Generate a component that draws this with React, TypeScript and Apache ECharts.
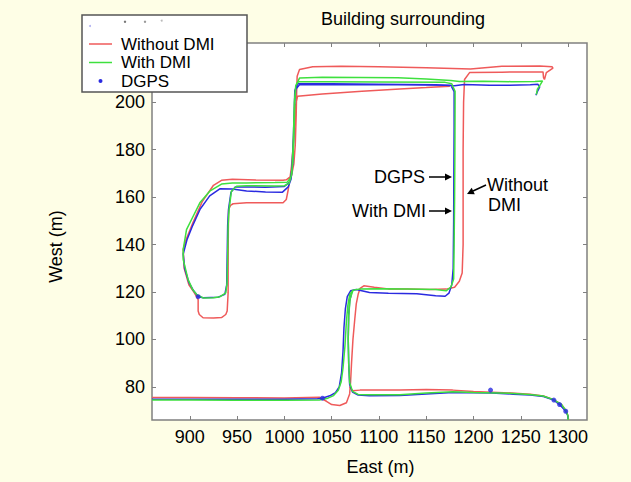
import React, { useEffect, useRef } from 'react';
import * as echarts from 'echarts';

const FONT = '"Liberation Sans", Arial, sans-serif';

const xTicks = [900, 950, 1000, 1050, 1100, 1150, 1200, 1250, 1300];
const yTicks = [80, 100, 120, 140, 160, 180, 200];
const seriesNames = ['Without DMI', 'With DMI', 'DGPS'];

// Without DMI (red) – main loop and the bottom-right leg
const withoutDmiMain: number[][] = [
  [860, 75.5], [900, 75.5], [950, 75.4], [1000, 75.3], [1037, 75.6], [1044.5, 73.9], [1050, 72.5],
  [1058.6, 72.1], [1065.6, 73.3], [1069, 77], [1070, 82], [1071, 90], [1072.5, 100], [1074.4, 108.4],
  [1076, 115], [1078, 119], [1080, 121.5], [1084, 122.6], [1095, 122], [1110, 121.3], [1130, 121.2],
  [1153.7, 121], [1171, 121.2], [1180, 122], [1185, 124.5], [1188, 128], [1189, 140], [1189, 160],
  [1189, 180], [1189.5, 200], [1190.5, 209.6], [1196, 212.6], [1230, 212.7], [1265, 212.8],
  [1273.5, 212.8], [1274, 210.5], [1275, 209.6], [1277, 212.5], [1284, 214.4], [1283, 215],
  [1270, 215.3], [1230, 215.2], [1196.8, 214], [1150, 214.6], [1100, 215], [1060, 215.2], [1030, 215],
  [1016, 213.8], [1013.5, 211], [1013, 205], [1012.5, 195], [1011.5, 182], [1010, 174], [1007.5, 169],
  [1002, 167.3], [998.6, 167.1], [970, 167.2], [945, 167.5], [933.5, 167.1], [925, 165], [913, 158],
  [903, 149], [896, 142], [893, 138], [894, 130], [899, 123], [905, 119.5], [908.8, 116.8],
  [908.8, 112], [910, 110.5], [914, 109.1], [925, 109], [933.5, 109.2], [938, 110.5], [939.5, 112],
  [940.5, 119.6], [940.5, 130], [940.7, 145], [941, 154.8], [943, 156.5], [945.8, 157.2], [960, 157.6],
  [980, 157.6], [998.6, 157.6], [1002, 159], [1004, 163], [1005.7, 167.4], [1007.5, 173], [1009, 180],
  [1010.5, 190], [1011.5, 198], [1013.9, 202.5], [1040, 203.5], [1082, 204.7], [1122, 205.6],
  [1150, 206.2], [1175, 206.8],
];
const withoutDmiLeg: number[][] = [
  [1069, 80], [1072, 78.3], [1080, 78.6], [1100, 78.6], [1122, 78.7], [1150, 78.9], [1178, 78.6],
  [1200, 78], [1240, 77.4], [1260, 76.9], [1274, 76.1], [1284, 74.7], [1293, 72.6], [1298, 69.8],
  [1300, 67.7], [1300.5, 66],
];

// With DMI (green)
const withDmiMain: number[][] = [
  [860, 74.4], [900, 74.4], [950, 74.3], [1000, 74.3], [1037, 74.4], [1046, 75.2], [1052, 76.3],
  [1057, 78.5], [1060, 82], [1062, 88], [1064, 97], [1065.5, 107], [1067, 114], [1069, 118.8],
  [1072.5, 120.7], [1080, 121.3], [1100, 121.4], [1130, 121.3], [1160, 121], [1171, 120.5],
  [1176, 122], [1179, 125.5], [1179.5, 140], [1180, 160], [1180.3, 180], [1180.5, 200],
  [1180.5, 204.6], [1177, 207.8], [1170, 208.4], [1100, 208.6], [1050, 208.7], [1015, 208.7],
  [1012, 207], [1011, 200], [1010, 185], [1009, 175], [1007, 168.5], [1003, 166.3], [990, 166.2],
  [960, 166], [945, 166], [933.5, 165.5], [921, 162.5], [910.6, 157.6], [903, 151.5], [896.5, 146.3],
  [893, 138], [893, 133.7], [898.2, 125.2], [903, 121], [907, 119], [914, 117.5], [925, 117.6],
  [932, 118], [938, 119.6], [939.4, 123.8], [940, 135], [940.5, 147.8], [941.5, 154.8], [944, 162.5],
  [949.4, 164.6], [960, 164.8], [990, 164.7], [1000, 164.8], [1005, 165.8], [1008, 170],
  [1009.5, 185], [1010.5, 200], [1012, 207], [1016, 210.2], [1040, 210.6], [1080, 210.5],
  [1120, 210.3], [1150, 209.8], [1176, 209.2], [1185, 208.8], [1210, 208.9], [1240, 208.7],
  [1265, 208.8], [1273, 209], [1270, 207], [1267.5, 205.5], [1266.5, 203.2],
];
const withDmiLeg: number[][] = [
  [1300, 66], [1299.9, 67.7], [1298, 69.8], [1293, 72.6], [1284, 74.7], [1273.5, 76.1], [1259, 76.8],
  [1242, 77.2], [1200, 77.6], [1178, 77.9], [1150, 77.4], [1122, 76.6], [1090, 76.6], [1078, 76.8],
  [1072, 78.1], [1069, 81.8], [1068, 90], [1067.5, 100], [1068, 110], [1069.5, 117], [1072.5, 120.7],
];

// DGPS (blue)
const dgpsMain: number[][] = [
  [860, 74.8], [900, 74.8], [966, 74.8], [1000, 74.8], [1035, 75], [1040, 75.2], [1048, 76.2],
  [1054, 77.5], [1058, 80], [1060.5, 86], [1062, 95], [1063, 105], [1064.5, 113], [1066.5, 118],
  [1070, 120.5], [1076, 121], [1090, 119.8], [1110, 119.5], [1140, 119.2], [1160, 118.4],
  [1170, 118.2], [1174, 119.5], [1177, 123], [1178.5, 130], [1179, 150], [1179.2, 170],
  [1179.5, 190], [1179.5, 204.5], [1176, 207.2], [1160, 207.4], [1100, 207.6], [1050, 207.8],
  [1014, 207.8], [1011, 205], [1010, 190], [1009, 175], [1007, 167.5], [1004, 164.3], [998, 162.1],
  [980, 162.2], [960, 162.6], [945, 163.4], [931.7, 163.5], [921, 160.5], [911, 155], [903, 148],
  [897, 142], [893, 136], [894.5, 130], [899, 124], [904, 120.5], [909, 118], [914, 117.6],
  [930, 117.8], [937, 119], [939, 123], [939.5, 135], [940, 148], [941, 155], [943.5, 162],
  [948, 164.3], [980, 164.2], [1000, 164.5], [1006, 166.5], [1008, 172], [1009.5, 185],
  [1010.5, 198], [1012, 205.5], [1016, 207.4], [1060, 207.5], [1120, 207.4], [1170, 207.2],
  [1180, 207], [1190, 207.5], [1217, 207.2], [1238, 207.2], [1260, 207.4], [1268, 207.6],
  [1270, 206.5], [1267.5, 204.5], [1266, 203],
];
const dgpsLeg: number[][] = [
  [1300, 66.5], [1299.5, 68], [1297.5, 69.7], [1291, 72.5], [1284.8, 74.4], [1274, 75.9], [1260, 76.5],
  [1242, 76.9], [1219, 77.4], [1200, 77.5], [1178, 77.6], [1150, 77], [1122, 76.3], [1090, 76.2],
  [1078, 76.5], [1072, 77.8], [1069, 81], [1068, 90], [1067.5, 100], [1068, 110], [1069, 116],
  [1071, 119.5],
];
const dgpsDots: number[][] = [
  [908.8, 118], [1040.3, 75.2], [1218, 78.6], [1285, 74.4], [1291, 72.5], [1297.5, 69.7],
];

const RED = '#ef5a5a';
const GREEN = '#3ee03e';
const BLUE = '#2a2ae0';

const LINE_ICON = 'path://M0,0M23,10M0,4.25L23,4.25L23,5.75L0,5.75Z';
const DOT_ICON = 'path://M0,0M23,10M9.5,5a2,2 0 1 0 4,0a2,2 0 1 0 -4,0z';

export default function App() {
  const ref = useRef<HTMLDivElement>(null);

  useEffect(() => {
    const chart = echarts.init(ref.current!, null, { renderer: 'svg' });

    const lineSeries = (name: string, data: number[][], color: string, z: number) => ({
      type: 'line',
      name,
      data,
      symbol: 'none',
      showSymbol: false,
      silent: true,
      z,
      lineStyle: { color, width: 1.5 },
      itemStyle: { color },
    });

    const axisTick = (values: number[]) => ({
      show: true,
      inside: true,
      length: 4,
      customValues: values,
      lineStyle: { color: '#808080', width: 1 },
    });

    const labelStyle = { fontSize: 18, color: '#000', fontFamily: FONT };
    const plain = (v: number) => String(v);

    const txt = (text: string, x: number, y: number, align: string) => ({
      type: 'text',
      x,
      y,
      z: 6,
      style: { text, align, verticalAlign: 'middle', fontSize: 18, fontFamily: FONT, fill: '#000' },
    });

    chart.setOption({
      animation: false,
      backgroundColor: '#fefee6',
      title: {
        text: 'Building surrounding',
        left: 321,
        top: 10,
        padding: 0,
        textStyle: { fontSize: 18, fontWeight: 'normal', color: '#000', fontFamily: FONT },
      },
      grid: {
        left: 152,
        right: 44,
        top: 43,
        bottom: 62,
        show: true,
        backgroundColor: '#ffffff',
        borderColor: '#808080',
        borderWidth: 1.5,
        containLabel: false,
        outerBoundsMode: 'none',
      },
      legend: {
        orient: 'vertical',
        left: 89,
        top: 35,
        padding: 0,
        itemGap: 0.5,
        itemWidth: 23,
        itemHeight: 10,
        selectedMode: false,
        z: 5,
        textStyle: { fontSize: 17, lineHeight: 18, color: '#000', fontFamily: FONT, padding: [0, 0, 0, 4] },
        data: [
          { name: seriesNames[0], icon: LINE_ICON, itemStyle: { color: RED } },
          { name: seriesNames[1], icon: LINE_ICON, itemStyle: { color: GREEN } },
          { name: seriesNames[2], icon: DOT_ICON, itemStyle: { color: BLUE } },
        ],
      },
      xAxis: [
        {
          type: 'value',
          min: 860,
          max: 1320,
          position: 'bottom',
          axisLine: { show: false },
          splitLine: { show: false },
          axisTick: axisTick(xTicks),
          axisLabel: { ...labelStyle, customValues: xTicks, margin: 8, formatter: plain },
          name: 'East (m)',
          nameLocation: 'middle',
          nameGap: 38,
          nameTextStyle: { ...labelStyle, padding: [0, 0, 0, 22] },
        },
        {
          type: 'value',
          min: 860,
          max: 1320,
          position: 'top',
          axisLine: { show: false },
          splitLine: { show: false },
          axisTick: axisTick(xTicks),
          axisLabel: { show: false },
        },
      ],
      yAxis: [
        {
          type: 'value',
          min: 66,
          max: 225,
          position: 'left',
          axisLine: { show: false },
          splitLine: { show: false },
          axisTick: axisTick(yTicks),
          axisLabel: { ...labelStyle, customValues: yTicks, margin: 7, formatter: plain },
          name: 'West (m)',
          nameLocation: 'middle',
          nameGap: 87,
          nameTextStyle: { ...labelStyle, padding: [0, 30, 0, 0] },
        },
        {
          type: 'value',
          min: 66,
          max: 225,
          position: 'right',
          axisLine: { show: false },
          splitLine: { show: false },
          axisTick: axisTick(yTicks),
          axisLabel: { show: false },
        },
      ],
      series: [
        lineSeries(seriesNames[0], withoutDmiMain, RED, 2),
        lineSeries(seriesNames[0], withoutDmiLeg, RED, 2),
        lineSeries(seriesNames[1], withDmiMain, GREEN, 3),
        lineSeries(seriesNames[1], withDmiLeg, GREEN, 3),
        lineSeries(seriesNames[2], dgpsMain, BLUE, 2.5),
        lineSeries(seriesNames[2], dgpsLeg, BLUE, 2.5),
        {
          type: 'scatter',
          name: seriesNames[2],
          data: dgpsDots,
          symbol: 'circle',
          symbolSize: 5,
          silent: true,
          z: 4,
          itemStyle: { color: BLUE },
        },
      ],
      graphic: [
        {
          type: 'rect',
          z: 4,
          shape: { x: 82, y: 15, width: 165, height: 77 },
          style: { fill: '#ffffff', stroke: '#555555', lineWidth: 1.5 },
        },
        { type: 'circle', z: 5, shape: { cx: 90, cy: 26, r: 1 }, style: { fill: '#b0b0f0' } },
        { type: 'circle', z: 5, shape: { cx: 125, cy: 21.7, r: 1.2 }, style: { fill: '#777' } },
        { type: 'circle', z: 5, shape: { cx: 145, cy: 21.7, r: 1.2 }, style: { fill: '#999' } },
        { type: 'circle', z: 5, shape: { cx: 161.7, cy: 20.7, r: 1 }, style: { fill: '#bbb' } },
        txt('DGPS', 425, 177, 'right'),
        { type: 'line', z: 6, shape: { x1: 429, y1: 177, x2: 446, y2: 177 }, style: { stroke: '#000', lineWidth: 1.5 } },
        { type: 'polygon', z: 6, shape: { points: [[445, 173.5], [452, 177], [445, 180.5]] }, style: { fill: '#000' } },
        txt('With DMI', 426, 211, 'right'),
        { type: 'line', z: 6, shape: { x1: 429, y1: 211, x2: 446, y2: 211 }, style: { stroke: '#000', lineWidth: 1.5 } },
        { type: 'polygon', z: 6, shape: { points: [[445, 207.5], [452, 211], [445, 214.5]] }, style: { fill: '#000' } },
        txt('Without', 487, 185, 'left'),
        txt('DMI', 488, 205, 'left'),
        { type: 'line', z: 6, shape: { x1: 486, y1: 185, x2: 473, y2: 191 }, style: { stroke: '#000', lineWidth: 1.5 } },
        { type: 'polygon', z: 6, shape: { points: [[474.8, 194.2], [467, 194], [471.7, 187.8]] }, style: { fill: '#000' } },
      ],
    });

    return () => chart.dispose();
  }, []);

  return (
    <div
      ref={ref}
      style={{ position: 'fixed', left: 0, top: 0, width: 631, height: 482 }}
    />
  );
}
